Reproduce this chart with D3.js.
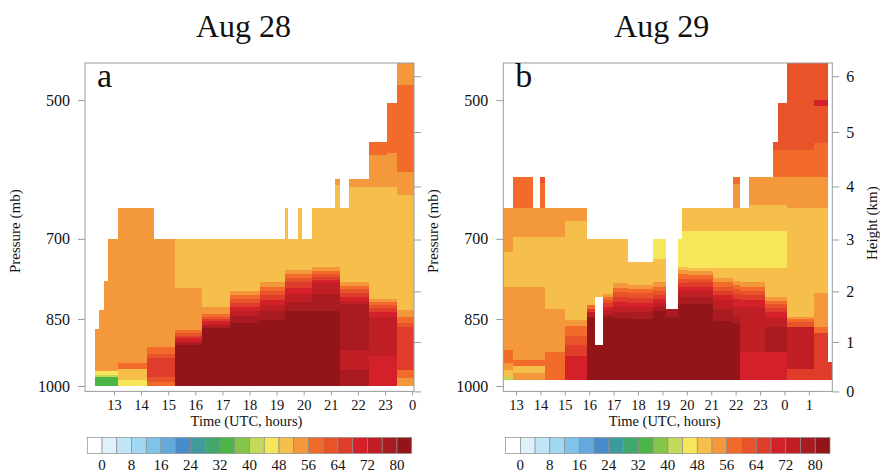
<!DOCTYPE html>
<html lang="en">

<head>
  <meta charset="UTF-8" />
  <title>d3</title>
  <script src="https://cdn.jsdelivr.net/npm/d3@7"></script>
  <style>
    body { margin: 0; background: #fff; }
    svg { display: block; }
    svg text { font-family: "Liberation Serif", "Times New Roman", serif; }
  </style>
</head>

<body>
  <svg id="svg"></svg>
</body>

<script>
  // colour classes: <0 (white), 0-4, 4-8, ... 76-80, >80
  const levels = [0, 4, 8, 12, 16, 20, 24, 28, 32, 36, 40, 44, 48, 52, 56, 60, 64, 68, 72, 76, 80];
  const palette = ["#ffffff", "#dff2fb", "#c0e6f7", "#a1d8f3", "#7fc3e8", "#64a9dc", "#478bcb",
    "#3e9a9c", "#42a76c", "#4bb547", "#86c449", "#c4d85a", "#f7e55a", "#f6be4b", "#f4983c",
    "#f26b2b", "#e8532a", "#e03c2c", "#d42129", "#bf1e24", "#a91b21", "#921619"];
  const cbLabels = [0, 8, 16, 24, 32, 40, 48, 56, 64, 72, 80];

  const pressureTicks = [500, 700, 850, 1000];
  const heightTicks = [0, 1, 2, 3, 4, 5, 6];

  // Aug 28: column edges (UTC hours) and, per column, [top pressure, value] from top down
  const hoursA = [12.30, 12.45, 12.63, 12.79, 13.15, 14.22, 14.48, 15.25, 16.24, 17.28, 18.39,
    19.31, 19.43, 19.80, 19.92, 20.32, 21.15, 21.34, 21.68, 22.41, 23.06, 23.46, 24.07];
  const timeTicksA = [13, 14, 15, 16, 17, 18, 19, 20, 21, 22, 23, 24];
  const profilesA = [
    [[870, 54], [964, 46], [973, 42], [979, 34]],
    [[832, 54], [964, 46], [973, 42], [979, 34]],
    [[776, 54], [964, 46], [973, 42], [979, 34]],
    [[700, 54], [964, 46], [973, 42], [979, 34]],
    [[650, 54], [945, 58], [960, 50], [986, 46]],
    [[650, 54], [909, 58], [925, 62], [935, 66], [978, 62], [990, 58]],
    [[700, 54], [909, 58], [925, 62], [935, 66], [978, 62], [990, 58]],
    [[700, 50], [789, 54], [874, 58], [880, 62], [886, 66], [891, 70], [896, 74], [901, 78], [906, 82]],
    [[700, 50], [825, 54], [840, 58], [845, 62], [850, 66], [855, 70], [860, 74], [864, 78], [868, 82]],
    [[700, 50], [794, 54], [802, 58], [810, 62], [818, 66], [826, 70], [834, 74], [843, 78], [858, 82]],
    [[700, 50], [778, 54], [786, 58], [794, 62], [802, 66], [811, 70], [821, 74], [833, 78], [852, 82]],
    [[650, 50], [755, 54], [762, 58], [770, 62], [778, 66], [788, 70], [800, 74], [815, 78], [834, 82]],
    [[700, 50], [755, 54], [762, 58], [770, 62], [778, 66], [788, 70], [800, 74], [815, 78], [834, 82]],
    [[650, 50], [755, 54], [762, 58], [770, 62], [778, 66], [788, 70], [800, 74], [815, 78], [834, 82]],
    [[700, 50], [755, 54], [762, 58], [770, 62], [778, 66], [788, 70], [800, 74], [815, 78], [834, 82]],
    [[650, 50], [750, 54], [756, 58], [762, 62], [768, 66], [774, 70], [780, 74], [800, 78], [834, 82]],
    [[605, 54], [615, 50], [750, 54], [756, 58], [762, 62], [768, 66], [774, 70], [780, 74], [800, 78], [834, 82]],
    [[650, 50], [777, 54], [784, 58], [791, 62], [798, 66], [806, 70], [813, 74], [819, 78], [917, 74], [962, 78]],
    [[605, 54], [617, 50], [777, 54], [784, 58], [791, 62], [798, 66], [806, 70], [813, 74], [819, 78], [917, 74], [962, 78]],
    [[553, 58], [571, 54], [617, 50], [809, 54], [815, 58], [821, 62], [828, 66], [836, 70], [845, 74], [931, 70]],
    [[504, 58], [569, 54], [617, 50], [809, 54], [815, 58], [821, 62], [828, 66], [836, 70], [845, 74], [931, 70]],
    [[457, 54], [482, 58], [595, 54], [630, 50], [832, 54], [845, 58], [858, 62], [866, 66], [962, 58], [982, 54]]
  ];

  // Aug 29
  const hoursB = [12.48, 12.87, 13.69, 13.99, 14.19, 15.01, 15.90, 16.24, 16.58, 16.99, 17.60, 18.63,
    19.14, 19.65, 19.82, 20.06, 21.09, 21.88, 22.18, 22.56, 23.20, 23.55, 23.75, 24.09, 25.19, 25.80, 25.96];
  const timeTicksB = [13, 14, 15, 16, 17, 18, 19, 20, 21, 22, 23, 24, 25];
  const profilesB = [
    [[650, 54], [722, 50], [786, 54], [917, 58], [945, 54], [962, 50], [978, 42]],
    [[603, 58], [650, 54], [697, 50], [786, 54], [938, 58], [952, 50], [970, 54]],
    [[650, 54], [697, 50], [786, 54], [938, 58], [952, 50], [970, 54]],
    [[603, 62], [612, 58], [650, 54], [697, 50], [786, 54], [938, 58], [952, 50], [970, 54]],
    [[650, 54], [697, 50], [829, 54], [920, 58]],
    [[650, 54], [670, 50], [852, 54], [864, 58], [885, 62], [905, 66], [930, 70]],
    [[700, 50], [822, 58], [829, 66], [836, 74], [845, 82]],
    [[700, 50], [806, null], [906, 82]],
    [[700, 50], [800, 54], [806, 58], [812, 62], [818, 66], [825, 70], [832, 74], [839, 78], [846, 82]],
    [[700, 50], [780, 54], [789, 58], [797, 62], [806, 66], [815, 70], [825, 74], [836, 78], [848, 82]],
    [[740, 50], [783, 54], [791, 58], [799, 62], [808, 66], [817, 70], [826, 74], [836, 78], [850, 82]],
    [[700, 46], [735, 50], [778, 54], [786, 58], [794, 62], [802, 66], [810, 70], [818, 74], [826, 78], [834, 82]],
    [[829, 78], [845, 82]],
    [[700, 46], [750, 50], [755, 54], [763, 58], [771, 62], [779, 66], [787, 70], [795, 74], [805, 78], [819, 82]],
    [[650, 50], [686, 46], [750, 50], [755, 54], [763, 58], [771, 62], [779, 66], [787, 70], [795, 74], [805, 78], [819, 82]],
    [[650, 50], [686, 46], [752, 50], [757, 54], [764, 58], [771, 62], [778, 66], [786, 70], [795, 74], [805, 78], [819, 82]],
    [[650, 50], [686, 46], [752, 50], [770, 54], [778, 58], [786, 62], [794, 66], [802, 70], [812, 74], [830, 78], [855, 82]],
    [[603, 58], [613, 54], [650, 50], [686, 46], [752, 50], [775, 54], [783, 58], [791, 62], [800, 66], [810, 70], [825, 74], [845, 78], [860, 82]],
    [[650, 50], [686, 46], [752, 50], [778, 54], [786, 58], [794, 62], [803, 66], [812, 70], [825, 74], [921, 70]],
    [[603, 54], [645, 50], [686, 46], [752, 50], [778, 54], [786, 58], [794, 62], [803, 66], [812, 70], [825, 74], [921, 70]],
    [[603, 54], [645, 50], [686, 46], [752, 50], [806, 54], [813, 58], [820, 62], [828, 66], [836, 70], [848, 74], [866, 78], [921, 70]],
    [[553, 62], [565, 58], [603, 54], [645, 50], [686, 46], [752, 50], [806, 54], [813, 58], [820, 62], [828, 66], [836, 70], [848, 74], [866, 78], [921, 70]],
    [[504, 62], [565, 58], [603, 54], [645, 50], [686, 46], [752, 50], [806, 54], [813, 58], [820, 62], [828, 66], [836, 70], [848, 74], [866, 78], [921, 70]],
    [[457, 62], [565, 58], [603, 54], [650, 50], [845, 54], [851, 58], [857, 62], [866, 74], [960, 66]],
    [[457, 62], [500, 70], [507, 62], [555, 58], [603, 54], [650, 50], [798, 54], [866, 58], [880, 66]],
    [[944, 66]]
  ];

  const width = 880;
  const height = 472;
  const plotTop = 63;
  const plotBottom = 391.4;
  const axisGrey = "#9c9c9c";

  const svg = d3.select("#svg").attr("width", width).attr("height", height);

  const color = d3.scaleThreshold().domain(levels).range(palette);

  // standard atmosphere, km -> mb
  function hToP(km) {
    return 1013.25 * Math.pow(1 - km / 44.33, 1 / 0.1903);
  }

  const yScale = d3.scaleLog().domain([457, 1013.25]).range([plotTop, plotBottom]);

  const panels = [
    { letter: "a", title: "Aug 28", left: 85, right: 414, domain: [11.93, 24.07], hours: hoursA,
      profiles: profilesA, base: 1000, ticks: timeTicksA, heightLabels: false },
    { letter: "b", title: "Aug 29", left: 503.3, right: 832.3, domain: [12.48, 25.96], hours: hoursB,
      profiles: profilesB, base: 986, ticks: timeTicksB, heightLabels: true }
  ];

  function styleAxis(g, size) {
    g.attr("font-family", null).attr("font-size", size);
    g.selectAll(".domain").remove();
    g.selectAll(".tick line").attr("stroke", axisGrey);
    g.selectAll(".tick text").attr("fill", "#111");
  }

  panels.forEach(p => {
    const xScale = d3.scaleLinear().domain(p.domain).range([p.left, p.right]);
    const g = svg.append("g");

    const cells = [];
    p.profiles.forEach((bands, i) => {
      bands.forEach((b, j) => {
        if (b[1] === null) return;
        const bottom = j + 1 < bands.length ? bands[j + 1][0] : p.base;
        cells.push({ t0: p.hours[i], t1: p.hours[i + 1], p0: b[0], p1: bottom, v: b[1] });
      });
    });

    g.append("g")
      .selectAll("rect")
      .data(cells)
      .join("rect")
      .attr("x", d => xScale(d.t0))
      .attr("width", d => xScale(d.t1) - xScale(d.t0))
      .attr("y", d => yScale(d.p0))
      .attr("height", d => yScale(d.p1) - yScale(d.p0))
      .attr("fill", d => color(d.v))
      .attr("shape-rendering", "crispEdges");

    // frame
    g.append("rect")
      .attr("x", p.left).attr("y", plotTop)
      .attr("width", p.right - p.left).attr("height", plotBottom - plotTop)
      .attr("fill", "none").attr("stroke", axisGrey).attr("stroke-width", 1);

    const left = g.append("g")
      .attr("transform", `translate(${p.left},0)`)
      .call(d3.axisLeft(yScale).tickValues(pressureTicks).tickFormat(d3.format("d"))
        .tickSize(7).tickPadding(8));
    styleAxis(left, 16);

    const right = g.append("g")
      .attr("transform", `translate(${p.right},0)`)
      .call(d3.axisRight(yScale).tickValues(heightTicks.map(hToP))
        .tickFormat((d, i) => p.heightLabels ? heightTicks[i] : "")
        .tickSize(7).tickPadding(7));
    styleAxis(right, 16);

    const bottom = g.append("g")
      .attr("transform", `translate(0,${plotBottom})`)
      .call(d3.axisBottom(xScale).tickValues(p.ticks).tickFormat(d => d % 24)
        .tickSize(4).tickPadding(4));
    styleAxis(bottom, 14.5);

    // titles
    svg.append("text")
      .attr("x", (p.left + p.right) / 2 - 6).attr("y", 37)
      .attr("text-anchor", "middle").attr("font-size", 32).attr("fill", "#111")
      .text(p.title);

    svg.append("text")
      .attr("x", p.left + 12).attr("y", 87)
      .attr("font-size", 34).attr("fill", "#111")
      .text(p.letter);

    svg.append("text")
      .attr("transform", `translate(${p.left - 65},${(plotTop + plotBottom) / 2 + 4}) rotate(-90)`)
      .attr("text-anchor", "middle").attr("font-size", 15).attr("fill", "#111")
      .text("Pressure (mb)");

    svg.append("text")
      .attr("x", (p.left + p.right) / 2 - 3).attr("y", 425.5)
      .attr("text-anchor", "middle").attr("font-size", 14.5).attr("fill", "#111")
      .text("Time (UTC, hours)");

    if (p.heightLabels) {
      svg.append("text")
        .attr("transform", `translate(${p.right + 45},${(plotTop + plotBottom) / 2 - 4}) rotate(-90)`)
        .attr("text-anchor", "middle").attr("font-size", 15).attr("fill", "#111")
        .text("Height (km)");
    }

    // colour bar
    const cbScale = d3.scaleLinear().domain([-4, 84]).range([p.left + 2.3, p.right - 2.3]);
    const cb = svg.append("g");
    cb.selectAll("rect")
      .data(palette)
      .join("rect")
      .attr("x", (d, i) => cbScale(i * 4 - 4))
      .attr("width", cbScale(4) - cbScale(0))
      .attr("y", 437.5).attr("height", 16)
      .attr("fill", d => d)
      .attr("stroke", "#8c8c8c").attr("stroke-width", 0.7);

    cb.selectAll("text")
      .data(cbLabels)
      .join("text")
      .attr("x", d => cbScale(d)).attr("y", 470)
      .attr("text-anchor", "middle").attr("font-size", 15).attr("fill", "#111")
      .text(d => d);
  });
</script>

</html>
